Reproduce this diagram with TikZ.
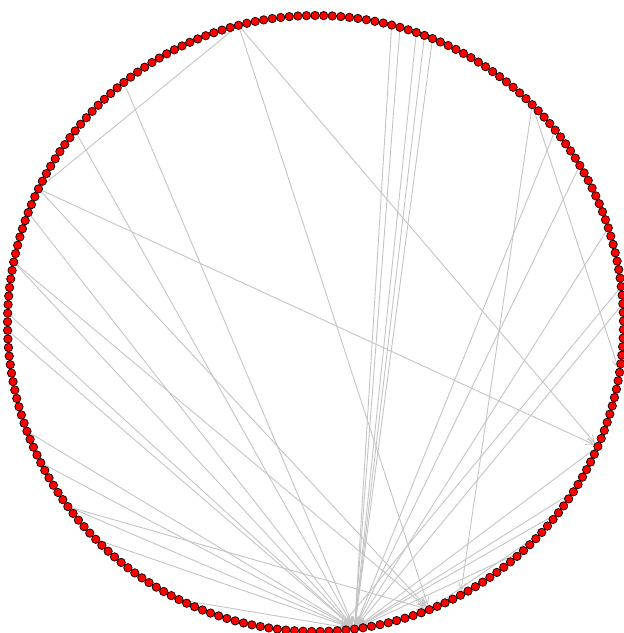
\documentclass[tikz,border=0pt]{standalone}
\usetikzlibrary{arrows.meta,backgrounds}
\begin{document}
\begin{tikzpicture}[x=1pt,y=1pt,
  vtx/.style={circle,draw=black,fill=red,line width=0.7pt,minimum size=8.4pt,inner sep=0pt},
  edge/.style={draw={rgb,255:red,196;green,196;blue,196},line width=0.9pt},
  arr/.style={edge,-{Straight Barb[length=7pt,width=7pt]}}
]
\useasboundingbox (-315.5,-309.5) rectangle (308.5,323.5);
\foreach \k in {0,...,224}{
  \node[vtx] (n\k) at ({(\k+0.3)*1.6}:308) {};
}
\begin{scope}[on background layer]
\draw[edge] (n65) -- (n96);
\foreach \s/\t in {65/210,96/210,65/182,96/182,80/173,88/173,47/173,46/173,44/173,43/173,42/173,
  28/186,28/219,24/173,19/173,11/173,105/173,105/182,99/173,111/173,113/173,125/173,129/173,
  135/173,135/182,140/173,152/173,201/173,4/171,2/173,210/173,204/173,198/182,195/173}
  \draw[arr] (n\s) -- (n\t);
\end{scope}
\end{tikzpicture}
\end{document}
